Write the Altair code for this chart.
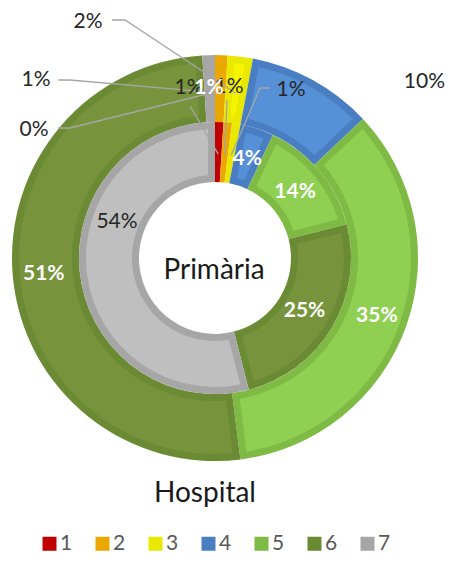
import math
import numpy as np
import pandas as pd
import altair as alt

# ---- data ----
categories = ["1", "2", "3", "4", "5", "6", "7"]
hospital = [0, 1, 2, 10, 35, 51, 1]      # outer ring (%)
primaria = [1, 1, 1, 4, 14, 25, 54]      # inner ring (%)
ring_names = ["Hospital", "Primària"]

legend_colors = ["#C00000", "#EAA800", "#E8E800", "#4A7EC2", "#7FBA45", "#6A8A33", "#A6A6A6"]
fill_colors = ["#C00000", "#F0AC00", "#F5F500", "#5690D6", "#8FCF52", "#77933C", "#BFBFBF"]

# ---- layout ----
W, H = 437, 547
CX, CY = 207, 250
R_OUT, R_MID, R_IN = 203, 136, 76
INSET = 7
LABEL_R = {"Hospital": 172, "Primària": 104}
LEADER_R = {"Hospital": 166, "Primària": 104}
FONT = "Lato"

# callout label placement (annotation layout)
callouts = {
    ("Hospital", "1"): dict(pos=(26, 122), leader=[(50, 120), (62, 120)], color="#262626", bold=False, align="center"),
    ("Hospital", "7"): dict(pos=(28, 72), leader=[(50, 72), (62, 72)], color="#262626", bold=False, align="center"),
    ("Hospital", "3"): dict(pos=(80, 14), leader=[(104, 12), (117, 12)], color="#262626", bold=False, align="center"),
    ("Hospital", "4"): dict(pos=(437, 74), leader=None, color="#262626", bold=False, align="right"),
    ("Primària", "1"): dict(pos=(181, 80), leader=[(182, 98)], color="#262626", bold=False, align="center"),
    ("Primària", "2"): dict(pos=(221, 79), leader=[(219, 92)], color="#262626", bold=False, align="center"),
    ("Primària", "3"): dict(pos=(283, 82), leader=[(262, 80), (252, 80)], color="#262626", bold=False, align="center"),
    ("Primària", "7"): dict(pos=(109, 214), leader=None, color="#262626", bold=False, align="center"),
    ("Hospital", "2"): dict(pos=(201, 80), leader=None, color="#FFFFFF", bold=True, align="center"),
}


def ring_df(name, vals):
    df = pd.DataFrame({"cat": categories, "value": vals})
    df["ring"] = name
    df["idx"] = list(range(len(vals)))
    df["fillc"] = fill_colors
    df["label"] = [f"{v}%" for v in vals]
    df["biglabel"] = [("" if (name, c) in callouts else f"{v}%") for c, v in zip(categories, vals)]
    cum = df["value"].cumsum()
    mid = (cum - df["value"] / 2) / df["value"].sum() * 2 * math.pi
    df["ex"] = CX + LEADER_R[name] * np.sin(mid)
    df["ey"] = CY - LEADER_R[name] * np.cos(mid)
    return df


outer = ring_df(ring_names[0], hospital)
inner = ring_df(ring_names[1], primaria)
both = pd.concat([outer, inner], ignore_index=True)

# callout text / leader tables
txt_rows, line_rows = [], []
for (ring, cat), spec in callouts.items():
    row = both[(both.ring == ring) & (both.cat == cat)].iloc[0]
    txt_rows.append(dict(label=row["label"], x=spec["pos"][0], y=spec["pos"][1],
                         tc=spec["color"], bold=spec["bold"], al=spec["align"]))
    if spec["leader"]:
        pts = list(spec["leader"]) + [(row["ex"], row["ey"])]
        for k, (px, py) in enumerate(pts):
            line_rows.append(dict(cid=f"{ring}-{cat}", k=k, x=px, y=py))
txt_df = pd.DataFrame(txt_rows)
line_df = pd.DataFrame(line_rows)

color_scale = alt.Scale(domain=categories, range=legend_colors)
legend = alt.Legend(
    title=None, orient="none", legendX=31, legendY=525, direction="horizontal",
    symbolType="square", symbolSize=196, symbolStrokeWidth=0, symbolOpacity=1,
    labelFontSize=21, labelFont=FONT, labelColor="#595959", labelOffset=0,
    columnPadding=19, padding=0,
)


def border_arc(df, r1, r2, show_legend):
    return alt.Chart(df).mark_arc(radius=r1, radius2=r2).encode(
        theta=alt.Theta("value:Q", stack=True),
        order=alt.Order("idx:Q"),
        color=alt.Color("cat:N", scale=color_scale, legend=legend if show_legend else None),
        x=alt.value(CX), y=alt.value(CY),
    )


def fill_arc(df, r1, r2):
    pr = math.sqrt(r1 ** 2 + r2 ** 2)
    return alt.Chart(df).mark_arc(radius=r1 - INSET, radius2=r2 + INSET,
                                  padAngle=2 * INSET / pr).encode(
        theta=alt.Theta("value:Q", stack=True),
        order=alt.Order("idx:Q"),
        color=alt.Color("fillc:N", scale=None),
        x=alt.value(CX), y=alt.value(CY),
    )


def big_labels(df, r):
    return alt.Chart(df).mark_text(radius=r, font=FONT, fontSize=21, fontWeight="bold",
                                   color="white", baseline="middle", align="center").encode(
        theta=alt.Theta("value:Q", stack=True),
        order=alt.Order("idx:Q"),
        text="biglabel:N",
        x=alt.value(CX), y=alt.value(CY),
    )


leaders = alt.Chart(line_df).mark_line(color="#A6A6A6", strokeWidth=1.3).encode(
    x=alt.X("x:Q", scale=None), y=alt.Y("y:Q", scale=None),
    detail="cid:N", order="k:Q",
)


def callout_text(df, bold, align):
    sub = df[(df.bold == bold) & (df.al == align)]
    return alt.Chart(sub).mark_text(
        font=FONT, fontSize=21, fontWeight="bold" if bold else "normal",
        baseline="middle", align=align).encode(
        x=alt.X("x:Q", scale=None), y=alt.Y("y:Q", scale=None),
        text="label:N", color=alt.Color("tc:N", scale=None),
    )


names_df = pd.DataFrame({"name": ring_names, "x": [197, 206], "y": [486, 263]})
ring_titles = alt.Chart(names_df).mark_text(
    font=FONT, fontSize=28, color="#1a1a1a", baseline="middle", align="center").encode(
    x=alt.X("x:Q", scale=None), y=alt.Y("y:Q", scale=None), text="name:N",
)

chart = alt.layer(
    border_arc(outer, R_OUT, R_MID, True),
    border_arc(inner, R_MID, R_IN, False),
    fill_arc(outer, R_OUT, R_MID),
    fill_arc(inner, R_MID, R_IN),
    leaders,
    big_labels(outer, LABEL_R["Hospital"]),
    big_labels(inner, LABEL_R["Primària"]),
    callout_text(txt_df, False, "center"),
    callout_text(txt_df, False, "right"),
    callout_text(txt_df, True, "center"),
    ring_titles,
).properties(
    width=W, height=H, padding=0, autosize=alt.AutoSizeParams(type="none"),
).configure(font=FONT).configure_view(stroke=None)

chart.save("out.html", embed_options={"renderer": "svg", "actions": False})
